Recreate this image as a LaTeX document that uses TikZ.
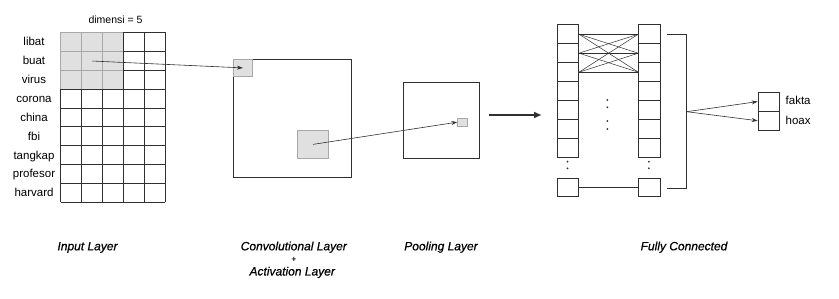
\documentclass[tikz,border=0pt]{standalone}
\usepackage{fontspec}
\setmainfont{Liberation Sans}
\newfontfamily\capfont[FakeBold=0.6]{Liberation Sans}
\usetikzlibrary{arrows.meta}

\definecolor{shade}{HTML}{E0E0E0}
\definecolor{shadeline}{HTML}{A8A8A8}
\definecolor{ink}{HTML}{303030}

\begin{document}
\begin{tikzpicture}[x=1pt,y=-1pt,
  word/.style={font=\fontsize{11.5}{13}\selectfont, inner sep=0, anchor=base},
  caption/.style={font=\capfont\itshape\fontsize{12}{14}\selectfont, inner sep=0, anchor=base},
  box/.style={draw=ink, line width=0.8pt, inner sep=0, anchor=north west},
  graybox/.style={draw=shadeline, fill=shade, line width=0.8pt, inner sep=0, anchor=north west},
  cell/.style={draw=ink, line width=0.8pt, inner sep=0, anchor=north west,
               minimum width=21.5pt, minimum height=19pt},
  thin/.style={draw=ink, line width=0.6pt},
  tip/.style={-{Stealth[length=6pt,width=4pt]}},
  dot/.style={fill=ink, draw=none, circle, inner sep=0, minimum size=2pt}]

\useasboundingbox (0,0) rectangle (839,299);

% ---------- input layer: 9 words x 5 dimensions ----------
\def\gx{60.7}\def\gy{32.3}\def\cw{20.86}\def\rh{18.89}
% filter window over the first three rows
\node[graybox, draw=none, minimum width=3*\cw pt, minimum height=3*\rh pt] (win) at (\gx,\gy) {};
\foreach \i in {0,1,2}{
  \draw[shadeline, line width=0.7pt] (\gx+\i*\cw,\gy) -- (\gx+\i*\cw,\gy+3*\rh);
  \draw[shadeline, line width=0.7pt] (\gx,\gy+\i*\rh) -- (\gx+3*\cw,\gy+\i*\rh);
}
\foreach \i in {3,4,5}
  \draw[ink, line width=0.7pt] (\gx+\i*\cw,\gy) -- (\gx+\i*\cw,\gy+9*\rh);
\foreach \i in {0,1,2}
  \draw[ink, line width=0.7pt] (\gx+\i*\cw,\gy+3*\rh) -- (\gx+\i*\cw,\gy+9*\rh);
\foreach \j in {3,...,9}
  \draw[ink, line width=0.7pt] (\gx,\gy+\j*\rh) -- (\gx+5*\cw,\gy+\j*\rh);
\foreach \j in {0,1,2}
  \draw[ink, line width=0.7pt] (\gx+3*\cw,\gy+\j*\rh) -- (\gx+5*\cw,\gy+\j*\rh);

\node[font=\fontsize{10.5}{12}\selectfont, inner sep=0] (dim) at (115.5,20) {dimensi = 5};

\foreach \w [count=\k from 0] in {libat,buat,virus,corona,china,fbi,tangkap,profesor,harvard}
  \node[word] (w\k) at (34,\gy+\k*\rh+0.5*\rh+4) {\w};

% ---------- convolutional layer ----------
\node[box, minimum width=117.4pt, minimum height=117.4pt] (conv) at (233.3,59.3) {};
\node[graybox, minimum width=18.4pt, minimum height=16.4pt] (feat) at (233.3,59.3) {};
\node[graybox, minimum width=30.4pt, minimum height=27.4pt] (patch) at (297.3,130.3) {};

% ---------- pooling layer ----------
\node[box, minimum width=76pt, minimum height=76pt] (pool) at (403.3,82.3) {};
\node[graybox, line width=0.6pt, minimum width=9.4pt, minimum height=8.3pt] (pooled) at (457.3,117.7) {};

\draw[thin, tip] (win.center) -- (feat.center);
\draw[thin, tip] (patch.center) -- (pooled.west);

% ---------- fully connected ----------
\foreach \k in {0,...,6}{
  \node[cell] (a\k) at (556.7,24.3+\k*19) {};
  \node[cell] (b\k) at (638.3,24.3+\k*19) {};
}
\node[cell, minimum height=18pt] (an) at (556.7,177.7) {};
\node[cell, minimum height=18pt] (bn) at (638.3,177.7) {};

\foreach \i in {0,1,2}
  \foreach \j in {0,1,2}
    \draw[ink, line width=0.5pt] (a\i.east) -- (b\j.west);
\draw[ink, line width=0.6pt] (an.east) -- (bn.west);

\foreach \y in {161.7,168.3}{
  \node[dot] at (567.5,\y) {};
  \node[dot] at (648.8,\y) {};
}
\foreach \y in {100,107.3,121,129}
  \node[dot] at (607.3,\y) {};

\coordinate (fcin) at (489,115);
\coordinate (fcstop) at (542,115);
\draw[ink, line width=1.6pt, -{Latex[length=8pt,width=7pt]}] (fcin) -- (fcstop);

% bracket gathering the hidden layer
\coordinate (brtop) at (667.3,34);
\coordinate (brbot) at (667.3,188.3);
\coordinate (brmid) at (686.7,111.7);
\draw[thin] (brtop) -| (brbot -| brmid) -- (brbot);

% output classes
\node[cell, minimum width=21.7pt, minimum height=19pt] (fakta) at (757.7,91.7) {};
\node[cell, minimum width=21.7pt, minimum height=19.3pt] (hoax) at (757.7,110.7) {};
\draw[thin, tip] (brmid) -- (fakta.west);
\draw[thin, tip] (brmid) -- (hoax.west);
\node[word, anchor=base west] (lf) at (785.5,105) {fakta};
\node[word, anchor=base west] (lh) at (785.5,125) {hoax};

% ---------- captions ----------
\node[caption] (c1) at (87.5,250.3) {Input Layer};
\node[caption] (c2) at (293.8,250.3) {Convolutional Layer};
\node[caption, font=\capfont\fontsize{8}{9}\selectfont] (c2p) at (293.8,261.5) {+};
\node[caption] (c2b) at (292.2,275.5) {Activation Layer};
\node[caption] (c3) at (441,250.3) {Pooling Layer};
\node[caption] (c4) at (684,250.3) {Fully Connected};
\end{tikzpicture}
\end{document}
